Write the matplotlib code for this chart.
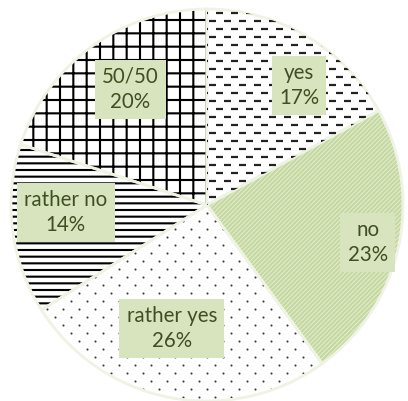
import numpy as np
import matplotlib
matplotlib.use("Agg")
from matplotlib import pyplot as plt
from matplotlib.collections import LineCollection

labels = ["yes", "no", "rather yes", "rather no", "50/50"]
shares = [17, 23, 26, 14, 20]
fills = ["white", "#c5d89f", "white", "white", "white"]
hatches = [None, "//////", None, "--", "+"]
hatch_cols = ["black", "#e4edd3", "black", "black", "black"]
# label box centres, in pie radii from the centre
label_xy = [(0.47, 0.61), (0.82, -0.19), (-0.18, -0.63), (-0.72, -0.04), (-0.39, 0.59)]

dpi = 80
R = 196  # pie radius in pixels
fig = plt.figure(figsize=(408 / dpi, 401 / dpi), dpi=dpi)
ax = fig.add_axes([0, 0, 1, 1])

plt.rcParams["hatch.linewidth"] = 1.6

# fills + hatches (hatch takes edge colour, so no edge stroke here)
wedges, _ = ax.pie(shares, startangle=90, counterclock=False, colors=fills,
                   wedgeprops=dict(linewidth=0))
for w, h, hc in zip(wedges, hatches, hatch_cols):
    if h:
        w.set_hatch(h)
        w.set_edgecolor(hc)
        if hasattr(w, "set_hatch_linewidth"):
            w.set_hatch_linewidth(0.9 if h.startswith("/") else 1.9)

# short staggered dashes for "yes"
step, row = 15 / R, 8 / R
gx, gy = np.meshgrid(np.arange(-1.1, 1.1, step), np.arange(-1.1, 1.1, row))
gx = gx + (np.round(gy / row) % 2) * step / 2
segs = [[(x, y), (x + 7 / R, y)] for x, y in zip(gx.ravel(), gy.ravel())]
lc = LineCollection(segs, colors="#222222", linewidths=2.0)
lc.set_clip_path(wedges[0])
ax.add_collection(lc)

# sparse small dots for "rather yes"
step, row = 16 / R, 8 / R
dx, dy = np.meshgrid(np.arange(-1.1, 1.1, step), np.arange(-1.1, 1.1, row))
dx = dx + (np.round(dy / row) % 2) * step / 2
dots = ax.scatter(dx.ravel(), dy.ravel(), s=3.5, c="#3a3a3a", linewidths=0)
dots.set_clip_path(wedges[2])

# light separators on top
ax.pie(shares, startangle=90, counterclock=False, colors=["none"] * 5,
       wedgeprops=dict(linewidth=2.5, edgecolor="#eef3e4"))

for (x, y), lab, s in zip(label_xy, labels, shares):
    ax.text(x, y, f"{lab}\n{s}%", ha="center", va="center",
            fontsize=18.5, family="Lato", color="#3f4f22", linespacing=1.3,
            bbox=dict(boxstyle="square,pad=0.35", fc="#d7e4bd", ec="none"))

ax.set_aspect("auto")
ax.set_xlim(-207 / R, 201 / R)
ax.set_ylim(-196 / R, 205 / R)
ax.axis("off")

fig.savefig("out.png", dpi=dpi)
